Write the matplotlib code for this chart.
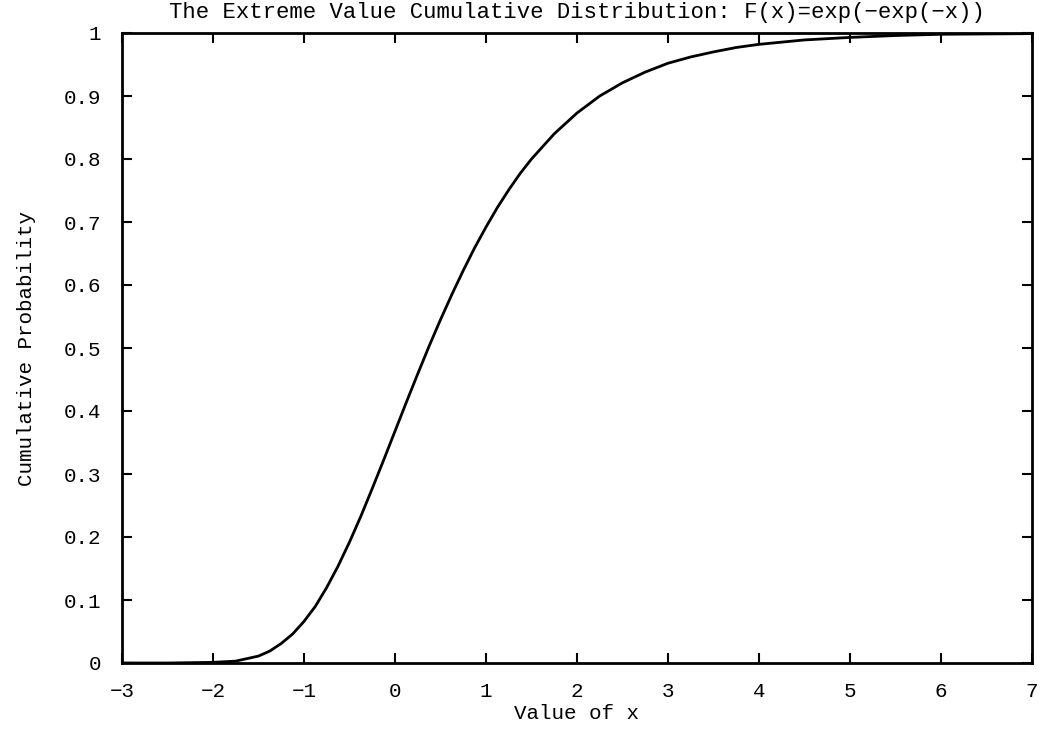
import matplotlib.pyplot as plt

# values
x = [-3, -2.5, -2, -1.75, -1.5, -1.375, -1.25, -1.125, -1, -0.875, -0.75,
     -0.625, -0.5, -0.375, -0.25, -0.125, 0, 0.125, 0.25, 0.375, 0.5, 0.625,
     0.75, 0.875, 1, 1.125, 1.25, 1.375, 1.5, 1.75, 2, 2.25, 2.5, 2.75, 3,
     3.25, 3.5, 3.75, 4, 4.5, 5, 5.5, 6, 7]
F = [0.000, 0.000, 0.001, 0.003, 0.011, 0.019, 0.031, 0.046, 0.066, 0.090,
     0.120, 0.154, 0.192, 0.233, 0.277, 0.322, 0.368, 0.414, 0.459, 0.503,
     0.545, 0.585, 0.623, 0.659, 0.692, 0.723, 0.751, 0.777, 0.800, 0.840,
     0.873, 0.900, 0.921, 0.938, 0.952, 0.962, 0.970, 0.977, 0.982, 0.989,
     0.993, 0.996, 0.998, 0.999]

xticks = [-3, -2, -1, 0, 1, 2, 3, 4, 5, 6, 7]
yticks = [0, 0.1, 0.2, 0.3, 0.4, 0.5, 0.6, 0.7, 0.8, 0.9, 1]
ylabels = ['0', '0.1', '0.2', '0.3', '0.4', '0.5', '0.6', '0.7', '0.8', '0.9', '1']

plt.rcParams['font.family'] = ['Liberation Mono', 'DejaVu Sans Mono']

fig = plt.figure(figsize=(10.4, 7.42), dpi=100)
ax = fig.add_axes([122/1040, 1-663/742, (1032-122)/1040, (663-33)/742])

ax.plot(x, F, color='black', lw=2)
ax.set_xlim(-3, 7)
ax.set_ylim(0, 1)
ax.set_xticks(xticks)
ax.set_xticklabels([str(t).replace('-', '\u2212') for t in xticks])
ax.set_yticks(yticks)
ax.set_yticklabels(ylabels)
ax.tick_params(direction='in', length=7, width=1.5, labelsize=15,
               top=True, right=True)
ax.tick_params(axis='x', pad=14)
ax.tick_params(axis='y', pad=15)
for s in ax.spines.values():
    s.set_linewidth(2)

ax.set_title('The Extreme Value Cumulative Distribution: F(x)=exp(\u2212exp(\u2212x))',
             fontsize=16, pad=11)
ax.set_xlabel('Value of x', fontsize=15, labelpad=2)
ax.set_ylabel('Cumulative Probability', fontsize=15, labelpad=20)

fig.savefig('out.png', dpi=100)
